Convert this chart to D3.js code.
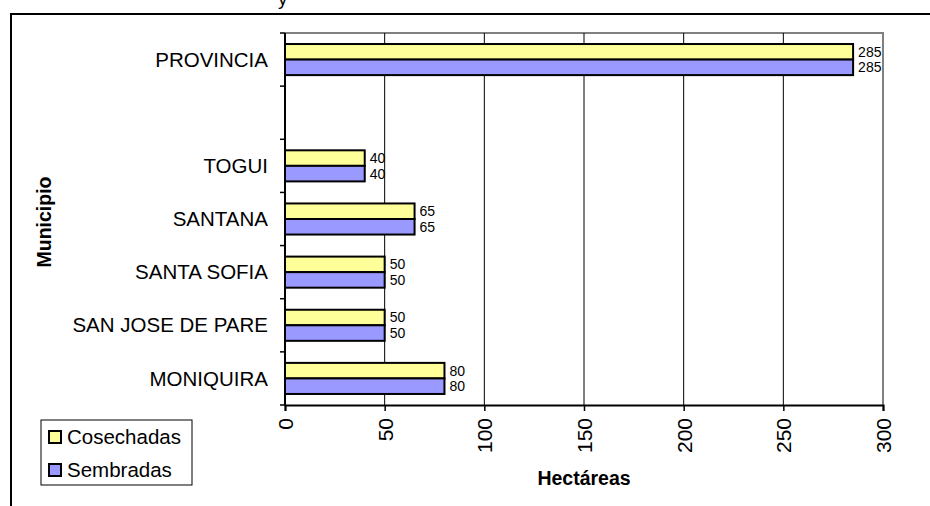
<!DOCTYPE html>
<html>
<head>
<meta charset="utf-8">
<script src="https://cdn.jsdelivr.net/npm/d3@7"></script>
<style>
  body { margin: 0; background: #fff; }
  svg { display: block; font-family: "Liberation Sans", Arial, sans-serif; }
</style>
</head>
<body>
<div id="app"></div>
<script>
// categories bottom to top, one empty slot between TOGUI and PROVINCIA
let categories = ['MONIQUIRA', 'SAN JOSE DE PARE', 'SANTA SOFIA', 'SANTANA', 'TOGUI', '', 'PROVINCIA'];
let seriesNames = ['Cosechadas', 'Sembradas'];
let cosechadas = [80, 50, 50, 65, 40, null, 285];
let sembradas = [80, 50, 50, 65, 40, null, 285];
let xTicks = [0, 50, 100, 150, 200, 250, 300];

let colors = { Cosechadas: '#ffff99', Sembradas: '#9999ff' };

let margin = { top: 33, right: 47, bottom: 101, left: 285 };
let width = 930 - margin.left - margin.right;
let height = 506 - margin.top - margin.bottom;

let svg = d3.select('#app').append('svg')
  .attr('width', 930)
  .attr('height', 506);

// title fragment left over at the top edge, and outer frame
svg.append('text')
  .attr('x', 278).attr('y', 5)
  .style('font-size', '19px')
  .text('y');

svg.append('path')
  .attr('d', 'M11,506V14H930')
  .attr('fill', 'none')
  .attr('stroke', '#000')
  .attr('stroke-width', 2);

let xScale = d3.scaleLinear()
  .domain([0, 300])
  .range([0, width]);

let pad = 22 / 53;
let yScale = d3.scaleBand()
  .domain(categories)
  .range([height, 0])
  .paddingInner(pad)
  .paddingOuter(pad / 2);

let inner = d3.scaleBand()
  .domain(seriesNames)
  .range([0, yScale.bandwidth()]);

let g = svg.append('g')
  .attr('transform', `translate(${margin.left}, ${margin.top})`);

// plot border (gray top and right)
g.append('path')
  .attr('d', `M0,0H${width}V${height}`)
  .attr('fill', 'none')
  .attr('stroke', '#808080')
  .attr('stroke-width', 2);

// vertical gridlines
g.selectAll('.grid')
  .data(xTicks.filter(d => d > 0 && d < 300))
  .enter().append('line')
    .attr('x1', d => xScale(d)).attr('x2', d => xScale(d))
    .attr('y1', 0).attr('y2', height)
    .attr('stroke', '#000')
    .attr('stroke-width', 1);

// bars
let rows = categories.map((c, i) => ({ cat: c, Cosechadas: cosechadas[i], Sembradas: sembradas[i] }));

let groups = g.selectAll('.row')
  .data(rows.filter(d => d.Cosechadas != null))
  .enter().append('g')
    .attr('transform', d => `translate(0, ${yScale(d.cat)})`);

groups.selectAll('rect')
  .data(d => seriesNames.map(s => ({ s: s, v: d[s] })))
  .enter().append('rect')
    .attr('x', 0)
    .attr('y', d => inner(d.s))
    .attr('width', d => xScale(d.v))
    .attr('height', inner.bandwidth())
    .attr('fill', d => colors[d.s])
    .attr('stroke', '#000')
    .attr('stroke-width', 2);

groups.selectAll('.val')
  .data(d => seriesNames.map(s => ({ s: s, v: d[s] })))
  .enter().append('text')
    .attr('x', d => xScale(d.v) + 5)
    .attr('y', d => inner(d.s) + inner.bandwidth() / 2)
    .attr('dy', '0.35em')
    .style('font-size', '14px')
    .text(d => d.v);

// y axis: line, boundary ticks, category labels
let step = yScale.step();
let bounds = d3.range(categories.length + 1).map(i => height - i * step);

g.append('line')
  .attr('x1', 0).attr('x2', 0)
  .attr('y1', 0).attr('y2', height)
  .attr('stroke', '#000').attr('stroke-width', 2);

g.selectAll('.ytick')
  .data(bounds)
  .enter().append('line')
    .attr('x1', -5).attr('x2', 0)
    .attr('y1', d => d).attr('y2', d => d)
    .attr('stroke', '#000').attr('stroke-width', 1.5);

g.selectAll('.ylab')
  .data(categories)
  .enter().append('text')
    .attr('x', -17)
    .attr('y', d => yScale(d) + yScale.bandwidth() / 2)
    .attr('dy', '0.35em')
    .attr('text-anchor', 'end')
    .style('font-size', '20.5px')
    .text(d => d);

// x axis
let xAxis = d3.axisBottom(xScale)
  .tickValues(xTicks)
  .tickSize(6)
  .tickPadding(8);

let xg = g.append('g')
  .attr('transform', `translate(0, ${height})`)
  .call(xAxis);

xg.select('.domain').attr('stroke-width', 2);
xg.selectAll('line').attr('stroke-width', 1.5);
xg.selectAll('text')
  .attr('transform', 'rotate(-90)')
  .attr('x', -13)
  .attr('y', 0)
  .attr('dy', '0.35em')
  .attr('text-anchor', 'end')
  .style('font-size', '21px')
  .style('font-family', '"Liberation Sans", Arial, sans-serif');

// axis titles
svg.append('text')
  .attr('x', margin.left + width / 2)
  .attr('y', 485)
  .attr('text-anchor', 'middle')
  .style('font-size', '19.5px')
  .style('font-weight', 'bold')
  .text('Hectáreas');

svg.append('text')
  .attr('transform', `translate(51, 222) rotate(-90)`)
  .attr('text-anchor', 'middle')
  .style('font-size', '19.5px')
  .style('font-weight', 'bold')
  .text('Municipio');

// legend
let legend = svg.append('g').attr('transform', 'translate(41, 420)');

legend.append('rect')
  .attr('width', 151).attr('height', 65)
  .attr('fill', '#fff')
  .attr('stroke', '#000')
  .attr('stroke-width', 1);

let items = legend.selectAll('.item')
  .data(seriesNames)
  .enter().append('g')
    .attr('transform', (d, i) => `translate(8, ${17 + i * 33})`);

items.append('rect')
  .attr('x', 0).attr('y', -6)
  .attr('width', 12).attr('height', 12)
  .attr('fill', d => colors[d])
  .attr('stroke', '#000')
  .attr('stroke-width', 2);

items.append('text')
  .attr('x', 18)
  .attr('y', 0)
  .attr('dy', '0.35em')
  .style('font-size', '20.5px')
  .text(d => d);
</script>
</body>
</html>
